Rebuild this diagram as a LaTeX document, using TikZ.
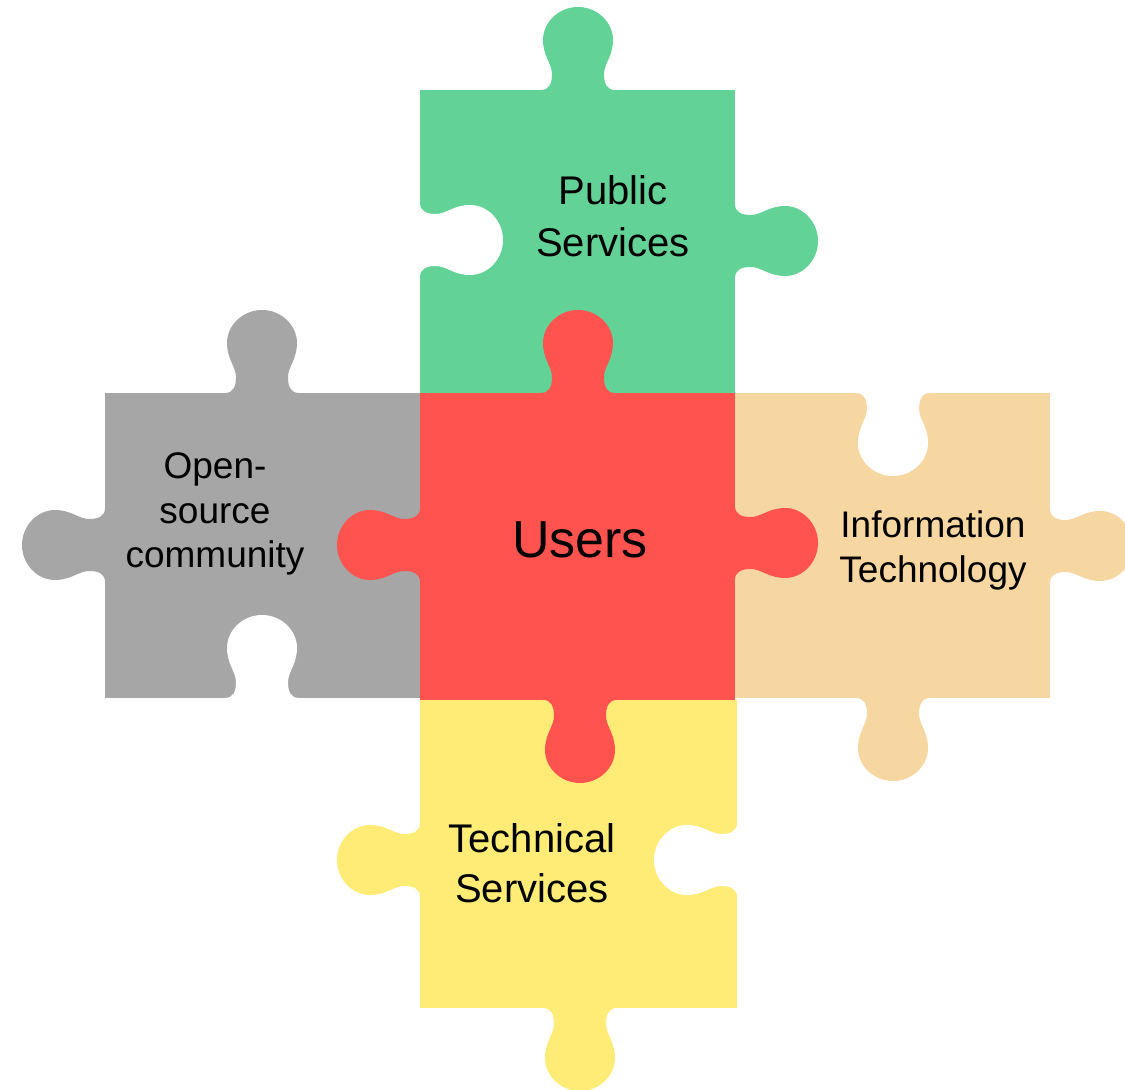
\documentclass[tikz,border=0pt]{standalone}
\usepackage{fontspec}
\setmainfont{Liberation Sans}
\definecolor{pgreen}{HTML}{63D297}
\definecolor{pred}{HTML}{FF5350}
\definecolor{pgray}{HTML}{A6A6A6}
\definecolor{pbeige}{HTML}{F7D7A1}
\definecolor{pyellow}{HTML}{FEEC76}
\newcommand\puzknob[4]{\fill[#1,shift={(#2,#3)},rotate=#4] (-37,-3) -- (-37,0) .. controls (-29,0) and (-26,6) .. (-26,16) .. controls (-26,26) and (-35,34) .. (-35,50) .. controls (-35,68) and (-19,83) .. (0,83) .. controls (19,83) and (35,68) .. (35,50) .. controls (35,34) and (26,26) .. (26,16) .. controls (26,6) and (29,0) .. (37,0) -- (37,-3) -- cycle;}
\tikzset{lbl/.style={inner sep=0pt, align=center, text=black}}
\begin{document}
\begin{tikzpicture}[x=0.5pt,y=-0.5pt]
\useasboundingbox (0,0) rectangle (1125,1090);
\fill[white] (0,0) rectangle (1125,1090);
% piece bodies
\fill[pgreen] (420,90) rectangle (735,393);
\fill[pgray] (105,393) rectangle (420,698);
\fill[pbeige] (735,393) rectangle (1050,698);
\fill[pyellow] (420,700) rectangle (737,1008);
\fill[pred] (420,393) rectangle (735,700);
% knobs
\puzknob{pgreen}{578}{90}{180}
\puzknob{pgreen}{735}{241}{90}
\puzknob{pred}{578}{393}{180}
\puzknob{pred}{420}{545}{-90}
\puzknob{pred}{735}{543}{90}
\puzknob{pred}{580}{700}{0}
\puzknob{pgray}{262}{393}{180}
\puzknob{pgray}{105}{545}{-90}
\puzknob{pbeige}{1050}{546}{90}
\puzknob{pbeige}{893}{698}{0}
\puzknob{pyellow}{420}{860}{-90}
\puzknob{pyellow}{580}{1008}{0}
% empty holes
\puzknob{white}{420}{240}{90}
\puzknob{white}{262}{698}{180}
\puzknob{white}{893}{393}{0}
\puzknob{white}{737}{860}{-90}
% labels
\node[lbl, font=\fontsize{20}{26}\selectfont] (ps) at (613,216) {Public\\Services};
\node[lbl, font=\fontsize{26}{30}\selectfont] (us) at (580,540) {Users};
\node[lbl, font=\fontsize{18.5}{22.3}\selectfont] (os) at (215,514) {Open-\\source\\community};
\node[lbl, font=\fontsize{18.5}{22.5}\selectfont] (it) at (933,550) {Information\\Technology};
\node[lbl, font=\fontsize{20}{25}\selectfont] (ts) at (532,863) {Technical\\Services};
\end{tikzpicture}
\end{document}
